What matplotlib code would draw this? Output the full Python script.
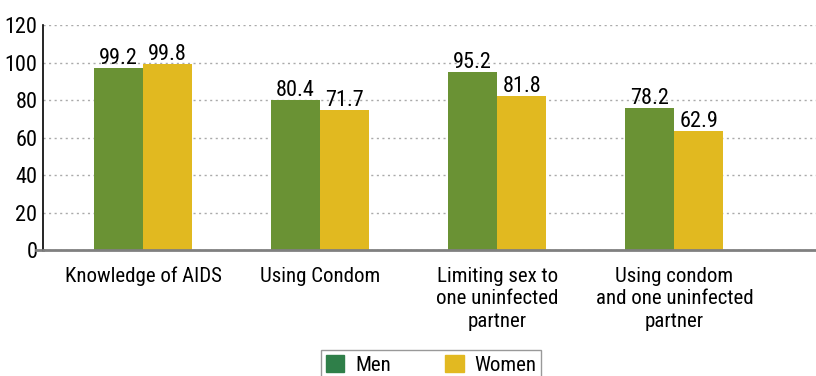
import numpy as np
import matplotlib.pyplot as plt
from matplotlib.patches import Patch

plt.rcParams['font.family'] = ['Roboto Condensed', 'Roboto', 'DejaVu Sans']

categories = ['Knowledge of AIDS', 'Using Condom',
              'Limiting sex to\none uninfected\npartner',
              'Using condom\nand one uninfected\npartner']
# bar heights as drawn in the picture
men = [97.1, 80.0, 94.9, 75.7]
women = [99.4, 74.7, 82.1, 63.6]
# printed labels
men_labels = ['99.2', '80.4', '95.2', '78.2']
women_labels = ['99.8', '71.7', '81.8', '62.9']

green = '#6a9234'
yellow = '#e1b920'

fig = plt.figure(figsize=(8.16, 3.76), dpi=100)
ax = fig.add_axes([0.0527, 0.335, 0.9473, 0.5985])

x = np.arange(len(categories))
w = 0.277
b1 = ax.bar(x - w / 2, men, w, color=green, zorder=3)
b2 = ax.bar(x + w / 2, women, w, color=yellow, zorder=3)

for bars, labs in [(b1, men_labels), (b2, women_labels)]:
    for bar, lab in zip(bars, labs):
        ax.annotate(lab, (bar.get_x() + bar.get_width() / 2, bar.get_height()),
                    xytext=(0, -1), textcoords='offset points',
                    ha='center', va='bottom', fontsize=16, zorder=4)

ax.set_xlim(-0.565, 3.80)
ax.set_ylim(0, 120)
ax.set_yticks(range(0, 121, 20))
ax.tick_params(axis='y', length=0, pad=4, labelsize=16)
ax.set_xticks(x)
ax.set_xticklabels(categories, fontsize=15, linespacing=1.25)
ax.tick_params(axis='x', length=0, pad=12)

ax.grid(axis='y', linestyle=(0, (1.5, 2.5)), color='#aaaaaa', linewidth=1, zorder=0)
ax.spines['top'].set_visible(False)
ax.spines['right'].set_visible(False)
ax.spines['left'].set_color('black')
ax.spines['left'].set_linewidth(1.2)
ax.spines['bottom'].set_color('#808080')
ax.spines['bottom'].set_linewidth(2)
ax.spines['bottom'].set_zorder(5)
ax.plot([-0.009, 0], [0, 0], transform=ax.transAxes, color='#808080',
        linewidth=2, clip_on=False)

handles = [Patch(color='#2f7f49', label='Men'), Patch(color='#e2b921', label='Women')]
fig.legend(handles=handles, loc='upper center', bbox_to_anchor=(0.528, 0.07),
           ncol=2, fontsize=15, frameon=True, fancybox=False, edgecolor='#808080',
           handlelength=0.9, handleheight=0.9, columnspacing=2.6, borderpad=0.25,
           borderaxespad=0, handletextpad=0.5)

fig.savefig('out.png', dpi=100)
